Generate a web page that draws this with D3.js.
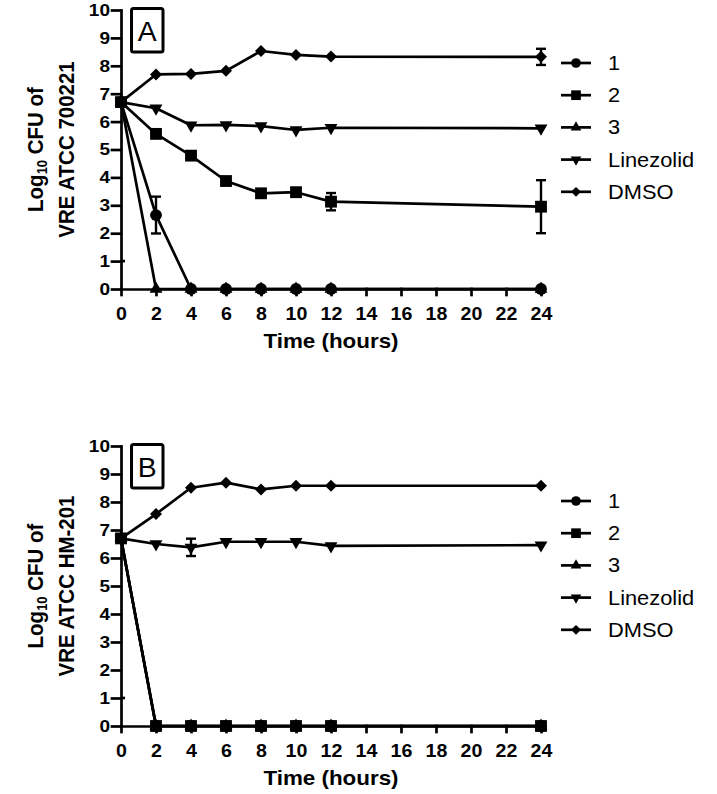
<!DOCTYPE html>
<html><head><meta charset="utf-8">
<script src="https://cdn.jsdelivr.net/npm/d3@7"></script>
<style>html,body{margin:0;padding:0;background:#fff;}svg{display:block;}</style>
</head><body>
<script>
// ---------- data ----------
const times = [0, 2, 4, 6, 8, 10, 12, 24];
const xTicks = [0, 2, 4, 6, 8, 10, 12, 14, 16, 18, 20, 22, 24];
const yTicks = [0, 1, 2, 3, 4, 5, 6, 7, 8, 9, 10];
const seriesNames = ["1", "2", "3", "Linezolid", "DMSO"];

// Panel A: VRE ATCC 700221
const A_c1   = [6.7, 2.65, 0, 0, 0, 0, 0, 0];
const A_c1e  = [0, 0.66, 0, 0, 0, 0, 0, 0];
const A_c2   = [6.7, 5.56, 4.78, 3.87, 3.43, 3.47, 3.13, 2.95];
const A_c2e  = [0, 0, 0, 0, 0, 0, 0.31, 0.95];
const A_c3   = [6.7, 0, 0, 0, 0, 0, 0, 0];
const A_lin  = [6.7, 6.48, 5.87, 5.88, 5.84, 5.70, 5.78, 5.76];
const A_dmso = [6.7, 7.69, 7.71, 7.82, 8.53, 8.39, 8.33, 8.32];
const A_dmsoe= [0, 0, 0, 0, 0, 0, 0, 0.29];

// Panel B: VRE ATCC HM-201
const B_c1   = [6.7, 0, 0, 0, 0, 0, 0, 0];
const B_c2   = [6.7, 0, 0, 0, 0, 0, 0, 0];
const B_c3   = [6.7, 0, 0, 0, 0, 0, 0, 0];
const B_lin  = [6.7, 6.5, 6.38, 6.58, 6.58, 6.58, 6.43, 6.46];
const B_line = [0, 0, 0.31, 0, 0, 0, 0, 0];
const B_dmso = [6.7, 7.57, 8.51, 8.69, 8.45, 8.58, 8.58, 8.58];

const zeros = times.map(() => 0);

const panels = [
  { letter: "A", strain: "VRE ATCC 700221", top: 10, bottom: 289, legendY: 63,
    series: [
      { name: "3", vals: A_c3, err: zeros, sym: "tri" },
      { name: "1", vals: A_c1, err: A_c1e, sym: "circle" },
      { name: "2", vals: A_c2, err: A_c2e, sym: "square" },
      { name: "Linezolid", vals: A_lin, err: zeros, sym: "tridown" },
      { name: "DMSO", vals: A_dmso, err: A_dmsoe, sym: "diamond" } ] },
  { letter: "B", strain: "VRE ATCC HM-201", top: 446, bottom: 726, legendY: 501,
    series: [
      { name: "3", vals: B_c3, err: zeros, sym: "tri" },
      { name: "1", vals: B_c1, err: zeros, sym: "circle" },
      { name: "2", vals: B_c2, err: zeros, sym: "square" },
      { name: "Linezolid", vals: B_lin, err: B_line, sym: "tridown" },
      { name: "DMSO", vals: B_dmso, err: zeros, sym: "diamond" } ] }
];
const legendSym = { "1": "circle", "2": "square", "3": "tri", "Linezolid": "tridown", "DMSO": "diamond" };

// ---------- drawing ----------
const W = 717, H = 794, SX = 1.12, LW = 2.7;
const FONT = "'Liberation Sans', Arial, Helvetica, sans-serif";
const svg = d3.select("body").append("svg").attr("width", W).attr("height", H)
  .style("font-family", FONT);

const x = d3.scaleLinear().domain([0, 24]).range([121, 541]);

function symPath(type, scale) {
  const s = scale || 1;
  if (type === "circle") return { d: d3.symbol(d3.symbolCircle, 110 * s * s)(), rot: 0 };
  if (type === "square") return { d: d3.symbol(d3.symbolSquare, 140 * s * s)(), rot: 0 };
  if (type === "tri") return { d: d3.symbol(d3.symbolTriangle, 72 * s * s)(), rot: 0 };
  if (type === "tridown") return { d: d3.symbol(d3.symbolTriangle, 72 * s * s)(), rot: 180 };
  return { d: d3.symbol(d3.symbolSquare, 72 * s * s)(), rot: 45 };
}

function stext(parent, px, py, str, size, weight, anchor, sx) {
  const g = parent.append("g").attr("transform", `translate(${px},${py}) scale(${sx || SX},1)`);
  return g.append("text").attr("text-anchor", anchor).attr("font-size", size)
    .attr("font-weight", weight).attr("fill", "#000").text(str);
}

panels.forEach(p => {
  const y = d3.scaleLinear().domain([0, 10]).range([p.bottom, p.top]);
  const g = svg.append("g");

  // axes
  const ya = g.append("g").attr("transform", `translate(${x(0)},0)`)
    .call(d3.axisLeft(y).tickValues(yTicks).tickSize(9).tickSizeOuter(0).tickPadding(2));
  ya.selectAll("path,line").attr("stroke", "#000").attr("stroke-width", LW).attr("stroke-linecap", "square");
  ya.selectAll("text").attr("x", 0).attr("transform", `translate(-11,0) scale(${SX},1)`)
    .attr("font-size", 17).attr("font-weight", "bold").attr("font-family", FONT).attr("fill", "#000");
  // small inner mark at y = 1
  g.append("line").attr("x1", x(0)).attr("x2", x(0) + 4).attr("y1", y(1)).attr("y2", y(1))
    .attr("stroke", "#000").attr("stroke-width", LW);

  const xa = g.append("g").attr("transform", `translate(0,${y(0)})`)
    .call(d3.axisBottom(x).tickValues(xTicks).tickSize(6).tickSizeOuter(0).tickPadding(12));
  xa.selectAll("path,line").attr("stroke", "#000").attr("stroke-width", LW).attr("stroke-linecap", "square");
  xa.selectAll("text").attr("transform", `scale(1.06,1)`)
    .attr("font-size", 18.5).attr("font-weight", "bold").attr("font-family", FONT).attr("fill", "#000");

  // axis titles
  stext(g, x(12), y(0) + 59, "Time (hours)", 20, "bold", "middle");
  const cy = (p.top + p.bottom) / 2;
  const l1 = g.append("g").attr("transform", `translate(42.5,${cy}) scale(${SX},1) rotate(-90)`)
    .append("text").attr("text-anchor", "middle").attr("font-size", 20.5).attr("font-weight", "bold");
  l1.append("tspan").text("Log");
  l1.append("tspan").attr("font-size", 13).attr("dy", 4).text("10");
  l1.append("tspan").attr("dy", -4).text(" CFU of");
  g.append("g").attr("transform", `translate(74,${cy}) scale(${SX},1) rotate(-90)`)
    .append("text").attr("text-anchor", "middle").attr("font-size", 20.5).attr("font-weight", "bold")
    .text(p.strain);

  // panel letter box
  g.append("rect").attr("x", 131.5).attr("y", p.top - 1.5).attr("width", 31.5).attr("height", 43.5)
    .attr("rx", 2).attr("fill", "none").attr("stroke", "#000").attr("stroke-width", 3);
  stext(g, 147.3, p.top + 30.5, p.letter, 27, "normal", "middle", 1.05);

  // series
  const line = d3.line().x((d, i) => x(times[i])).y(d => y(d));
  p.series.forEach(s => {
    const sg = g.append("g");
    sg.append("path").attr("d", line(s.vals)).attr("fill", "none")
      .attr("stroke", "#000").attr("stroke-width", LW).attr("stroke-linejoin", "round");
    s.vals.forEach((v, i) => {
      const e = s.err[i];
      if (e > 0) {
        const cx = x(times[i]);
        sg.append("line").attr("x1", cx).attr("x2", cx).attr("y1", y(v - e)).attr("y2", y(v + e))
          .attr("stroke", "#000").attr("stroke-width", 2.4);
        [v - e, v + e].forEach(b => sg.append("line").attr("x1", cx - 5).attr("x2", cx + 5)
          .attr("y1", y(b)).attr("y2", y(b)).attr("stroke", "#000").attr("stroke-width", 2.4));
      }
      const sp = symPath(s.sym, 1);
      sg.append("path").attr("d", sp.d)
        .attr("transform", `translate(${x(times[i])},${y(v)}) rotate(${sp.rot})`).attr("fill", "#000");
    });
  });

  // legend
  seriesNames.forEach((n, k) => {
    const ly = p.legendY + k * 32.2;
    g.append("line").attr("x1", 561).attr("x2", 591).attr("y1", ly).attr("y2", ly)
      .attr("stroke", "#000").attr("stroke-width", LW);
    const sp = symPath(legendSym[n], 0.82);
    g.append("path").attr("d", sp.d).attr("transform", `translate(576,${ly}) rotate(${sp.rot})`).attr("fill", "#000");
    stext(g, 608, ly + 7, n, 19.5, "normal", "start");
  });
});
</script>
</body></html>
